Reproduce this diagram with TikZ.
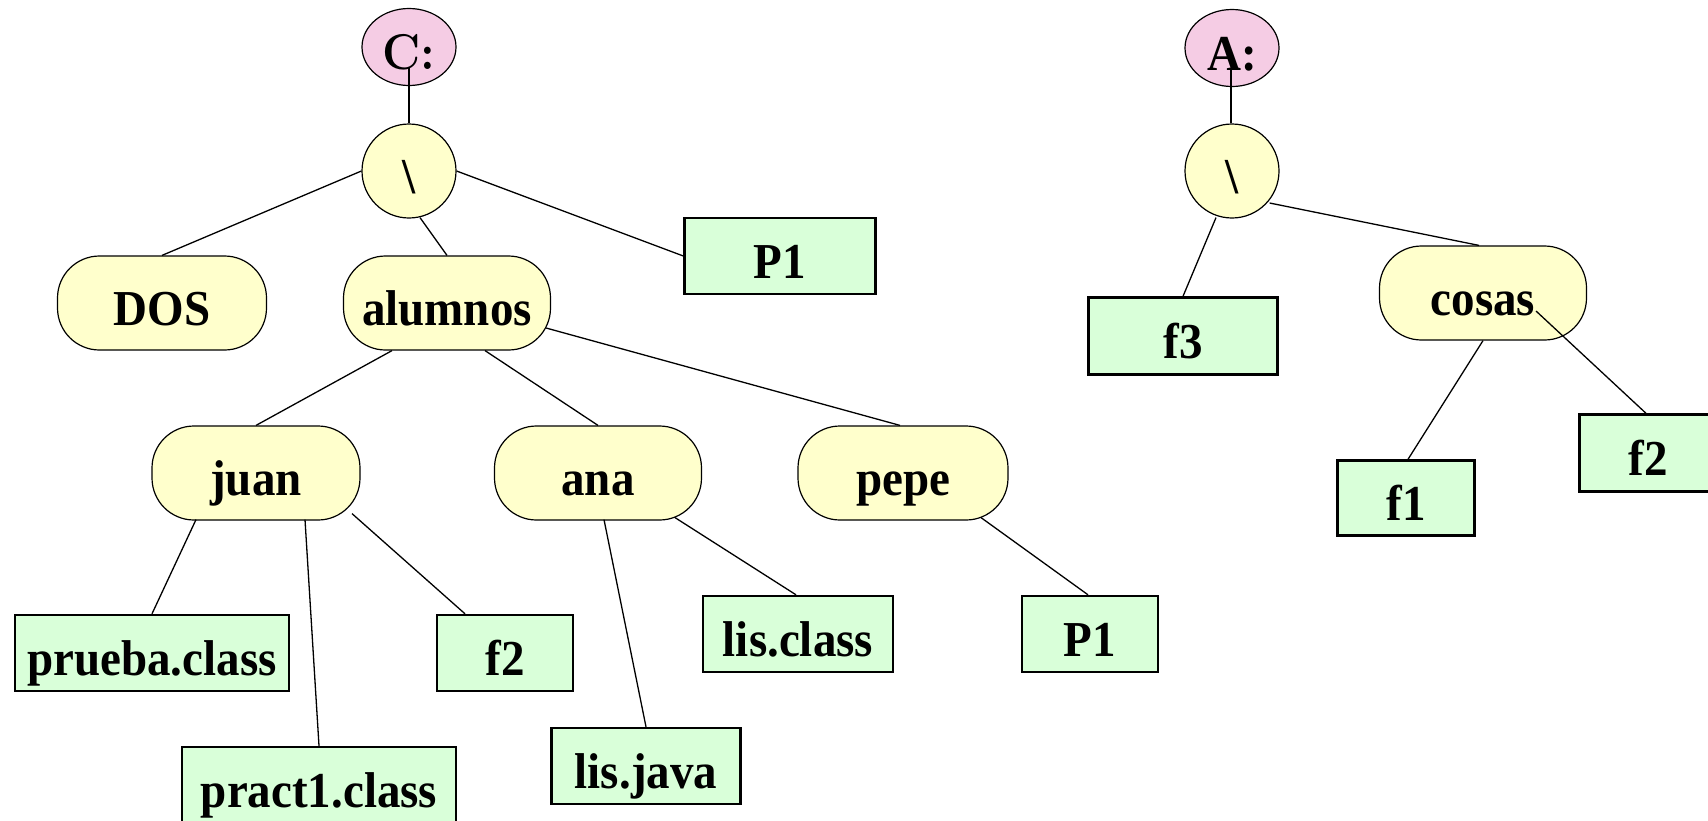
\documentclass[tikz,border=0pt]{standalone}
\usepackage{fontspec}
\usepackage{graphicx}
\setmainfont{Liberation Serif}
\newfontfamily\lmfont{Latin Modern Roman}
\usetikzlibrary{shapes.geometric,calc}
\definecolor{pinkfill}{RGB}{245,204,228}
\definecolor{yelfill}{RGB}{255,255,204}
\definecolor{grnfill}{RGB}{217,255,217}
\newcommand{\Tx}[1]{\scalebox{1}[1.07]{#1}}
\begin{document}
\begin{tikzpicture}[x=1pt,y=-1pt,
  every node/.style={inner sep=0pt,font=\fontsize{47}{50}\selectfont\bfseries,text height=45pt,text depth=0pt},
  drive/.style={ellipse,draw,line width=1.2pt,fill=pinkfill,minimum width=94pt,minimum height=77pt},
  rootnode/.style={ellipse,draw,line width=1.2pt,fill=yelfill,minimum width=94pt,minimum height=94pt},
  dirnode/.style={rectangle,rounded corners=42pt,draw,line width=1.2pt,fill=yelfill,minimum width=208pt,minimum height=94pt},
  filenode/.style={rectangle,draw,line width=2.4pt,fill=grnfill,minimum height=76pt},
  edge/.style={line width=1.3pt},
  vedge/.style={line width=2pt}]
\useasboundingbox (0,0) rectangle (1708,820);
% left tree
\node[drive] (C) at (409,47) {\Tx{\lmfont C:}};
\node[rootnode] (bs1) at (409,171) {\Tx{\textbackslash}};
\node[dirnode,minimum width=209pt] (DOS) at (162,303) {\Tx{DOS}};
\node[dirnode,minimum width=207pt] (alumnos) at (447,303) {\Tx{alumnos}};
\node[filenode,minimum width=191pt] (P1a) at (780,256) {\Tx{P1}};
\node[dirnode] (juan) at (256,473) {\Tx{juan}};
\node[dirnode,minimum width=207pt] (ana) at (598,473) {\Tx{ana}};
\node[dirnode,minimum width=210pt] (pepe) at (903,473) {\Tx{pepe}};
\node[filenode,minimum width=274pt] (prueba) at (152,653) {\Tx{prueba.class}};
\node[filenode,minimum width=274pt] (pract1) at (319,785) {\Tx{pract1.class}};
\node[filenode,minimum width=136pt] (f2a) at (505,653) {\Tx{f2}};
\node[filenode,minimum width=189pt] (lisjava) at (646,766) {\Tx{lis.java}};
\node[filenode,minimum width=190pt] (lisclass) at (798,634) {\Tx{lis.class}};
\node[filenode,minimum width=136pt] (P1b) at (1090,634) {\Tx{P1}};
% right tree
\node[drive] (A) at (1232,48) {\Tx{A:}};
\node[rootnode] (bs2) at (1232,171) {\Tx{\textbackslash}};
\node[filenode,minimum width=189pt,minimum height=77pt] (f3) at (1183,336) {\Tx{f3}};
\node[dirnode,minimum width=207pt] (cosas) at (1483,293) {\Tx{cosas}};
\node[filenode,minimum width=137pt,minimum height=75pt] (f1) at (1406,498) {\Tx{f1}};
\node[filenode,minimum width=137pt,minimum height=77pt] (f2b) at (1648,453) {\Tx{f2}};
% edges left
\draw[vedge] ($(C.center)+(0,21)$) -- (bs1.north);
\draw[edge] (bs1.west) -- (DOS.north);
\draw[edge] ($(bs1.south)+(11,-1)$) -- (alumnos.north);
\draw[edge] (bs1.east) -- (P1a.west);
\draw[edge] ($(alumnos.south)+(-55,0)$) -- (juan.north);
\draw[edge] ($(alumnos.south)+(38,0)$) -- (ana.north);
\draw[edge] ($(alumnos.east)+(-5,25)$) -- ($(pepe.north)+(-3,0)$);
\draw[edge] ($(juan.south)+(-60,-1)$) -- (prueba.north);
\draw[edge] ($(juan.south)+(49,-1)$) -- (pract1.north);
\draw[edge] ($(juan.south)+(96,-7)$) -- ($(f2a.north)+(-40,0)$);
\draw[edge] ($(ana.south)+(6,-1)$) -- (lisjava.north);
\draw[edge] ($(ana.south)+(77,-3)$) -- ($(lisclass.north)+(-2,0)$);
\draw[edge] ($(pepe.south)+(78,-3)$) -- ($(P1b.north)+(-2,0)$);
% edges right
\draw[vedge] ($(A.center)+(-1,22)$) -- ($(bs2.north)+(-1,0)$);
\draw[edge] ($(bs2.south)+(-16,-1)$) -- (f3.north);
\draw[edge] ($(bs2.east)+(-10,32)$) -- ($(cosas.north)+(-4,0)$);
\draw[edge] (cosas.south) -- ($(f1.north)+(2,0)$);
\draw[edge] ($(cosas.center)+(53,18)$) -- ($(f2b.north)+(-2,0)$);
\end{tikzpicture}
\end{document}
